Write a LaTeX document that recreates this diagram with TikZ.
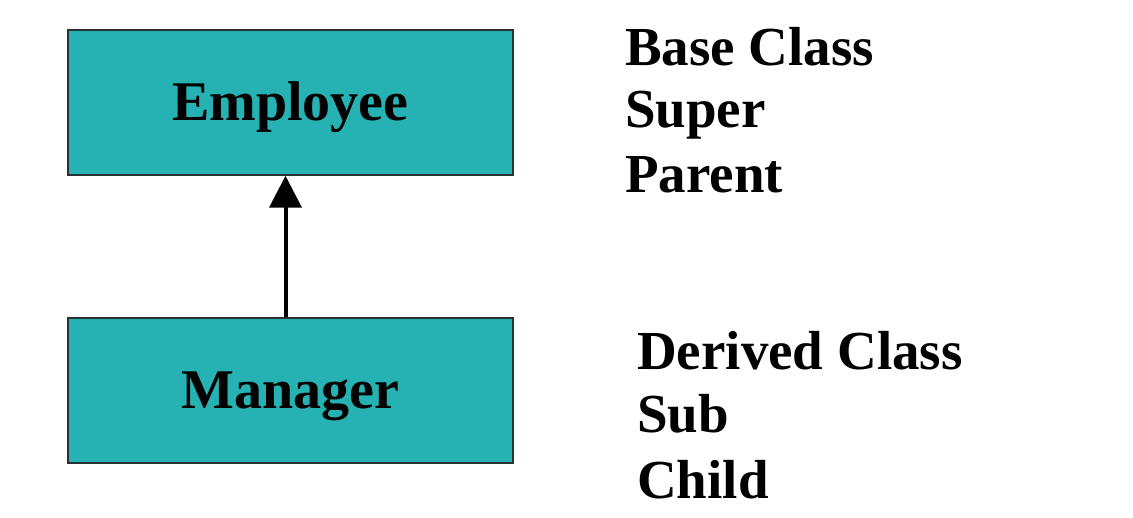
\documentclass[tikz,border=0pt]{standalone}
\usepackage{fontspec}
\setmainfont{Liberation Serif}
\usetikzlibrary{arrows.meta}
\definecolor{boxteal}{RGB}{38,178,178}
\definecolor{boxline}{RGB}{40,50,50}
\begin{document}
\begin{tikzpicture}[x=1pt,y=1pt,
  classbox/.style={draw=boxline,line width=1.5pt,fill=boxteal,minimum width=445pt,minimum height=145pt,inner sep=0pt,
    font=\fontsize{56}{60}\selectfont\bfseries,text height=37pt,text depth=0pt},
  sidelabel/.style={anchor=base west,inner sep=0pt,font=\fontsize{55}{60}\selectfont\bfseries}]
\useasboundingbox (0,0) rectangle (1133,517);
\fill[white] (0,0) rectangle (1133,517);
\node[classbox] (emp) at (290.5,414.5) {Employee};
\node[classbox] (mgr) at (290.5,126.5) {Manager};
\draw[line width=4pt,-{Triangle[width=32pt,length=32pt]}] ([xshift=-5pt]mgr.north) -- ([xshift=-5pt]emp.south);
\node[sidelabel] (base) at (625,451) {Base Class};
\node[sidelabel] (super) at (625,389) {Super};
\node[sidelabel] (parent) at (625,324) {Parent};
\node[sidelabel] (derived) at (637,147) {Derived Class};
\node[sidelabel] (sub) at (637,84) {Sub};
\node[sidelabel] (child) at (637,19) {Child};
\end{tikzpicture}
\end{document}
